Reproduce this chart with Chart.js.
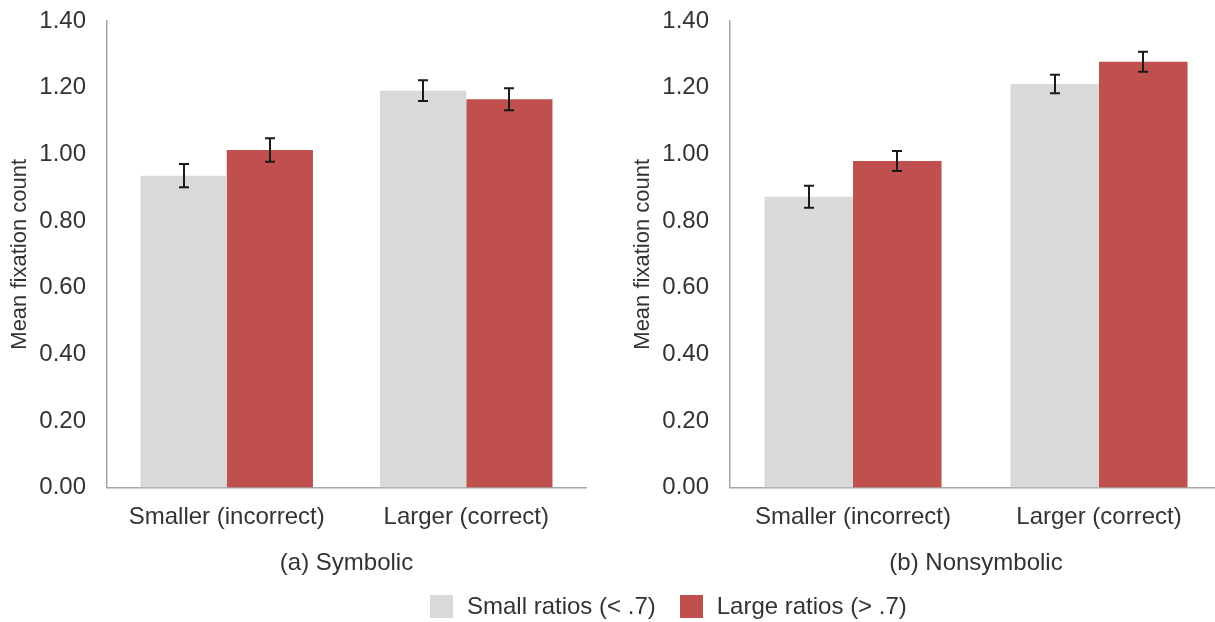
<!DOCTYPE html>
<html>
<head>
<meta charset="utf-8">
<script src="https://cdn.jsdelivr.net/npm/chart.js@4.4.1/dist/chart.umd.min.js"></script>
<style>
  html,body{margin:0;padding:0;background:#fff;overflow:hidden;width:1215px;height:622px;}
  .panel{position:absolute;top:0;height:622px;width:600px;}
  #legend{position:absolute;left:430px;top:592px;display:flex;align-items:center;
    font:24px 'Liberation Sans',Arial,sans-serif;color:#333;}
  #legend span.box{display:inline-block;width:23px;height:23px;margin-right:14px;}
  #legend span.item{display:inline-flex;align-items:center;margin-right:24px;}
</style>
</head>
<body>
<div class="panel" style="left:0"><canvas id="chartSymbolic"></canvas></div>
<div class="panel" style="left:623px"><canvas id="chartNonsymbolic"></canvas></div>
<div id="legend"></div>
<script>
// categorie e serie
const categories = ['Smaller (incorrect)', 'Larger (correct)'];
const seriesNames = ['Small ratios (< .7)', 'Large ratios (> .7)'];
const seriesColors = ['#d9d9d9', '#c0504d'];

// (a) Symbolic: un valore per categoria
const symSmallRatios = [0.936, 1.191];
const symLargeRatios = [1.013, 1.165];
const symSmallErr = [0.035, 0.031];
const symLargeErr = [0.035, 0.033];

// (b) Nonsymbolic
const nonSmallRatios = [0.873, 1.211];
const nonLargeRatios = [0.980, 1.278];
const nonSmallErr = [0.033, 0.028];
const nonLargeErr = [0.030, 0.030];

const yTicks = [0, 0.2, 0.4, 0.6, 0.8, 1.0, 1.2, 1.4];

const FONT = "'Liberation Sans', Arial, sans-serif";
const TEXT = '#333';

const errorBars = {
  id:'errorBars',
  afterDatasetsDraw(chart){
    const {ctx, scales:{y}} = chart;
    ctx.save();
    ctx.strokeStyle = '#1a1a1a';
    ctx.lineWidth = 2;
    chart.data.datasets.forEach((ds, di)=>{
      const meta = chart.getDatasetMeta(di);
      meta.data.forEach((bar, i)=>{
        const v = ds.data[i], e = ds.errors[i];
        const yTop = y.getPixelForValue(v + e);
        const yBot = y.getPixelForValue(v - e);
        const x = Math.round(bar.x);
        ctx.beginPath();
        ctx.moveTo(x, yTop); ctx.lineTo(x, yBot);
        ctx.moveTo(x-5, yTop); ctx.lineTo(x+5, yTop);
        ctx.moveTo(x-5, yBot); ctx.lineTo(x+5, yBot);
        ctx.stroke();
      });
    });
    ctx.restore();
  }
};

function makeChart(id, title, small, large, smallErr, largeErr, padRight){
  return new Chart(document.getElementById(id), {
    type:'bar',
    data:{
      labels:categories,
      datasets:[
        {label:seriesNames[0], data:small, errors:smallErr, backgroundColor:seriesColors[0]},
        {label:seriesNames[1], data:large, errors:largeErr, backgroundColor:seriesColors[1]}
      ]
    },
    options:{
      responsive:true,
      maintainAspectRatio:false,
      animation:false,
      layout:{padding:{left:3, right:padRight, top:21, bottom:40}},
      datasets:{bar:{categoryPercentage:0.72, barPercentage:1.0}},
      plugins:{legend:{display:false}, tooltip:{enabled:false}},
      scales:{
        x:{
          afterFit:(s)=>{ s.height = 94.4; },
          grid:{display:false, drawTicks:false},
          border:{display:true, color:'#a6a6a6', width:1.5},
          ticks:{color:TEXT, font:{family:FONT, size:24}, padding:15, maxRotation:0},
          title:{display:true, text:title, color:TEXT, font:{family:FONT, size:24}, padding:{top:18, bottom:4}}
        },
        y:{
          min:0, max:1.4,
          afterBuildTicks:(s)=>{ s.ticks = yTicks.map(v=>({value:v})); },
          afterFit:(s)=>{ s.width = 104; s.paddingTop = 0; s.paddingBottom = 0; },
          grid:{display:false, drawTicks:false},
          border:{display:true, color:'#a6a6a6', width:1.5},
          ticks:{color:TEXT, font:{family:FONT, size:24}, padding:21, callback:(v)=>Number(v).toFixed(2)},
          title:{display:true, text:'Mean fixation count', color:TEXT, font:{family:FONT, size:22}, padding:{top:4, bottom:6}}
        }
      }
    },
    plugins:[errorBars]
  });
}

makeChart('chartSymbolic', '(a) Symbolic', symSmallRatios, symLargeRatios, symSmallErr, symLargeErr, 14);
makeChart('chartNonsymbolic', '(b) Nonsymbolic', nonSmallRatios, nonLargeRatios, nonSmallErr, nonLargeErr, 1);

// legenda comune
const legend = document.getElementById('legend');
seriesNames.forEach((name, i)=>{
  const item = document.createElement('span');
  item.className = 'item';
  const box = document.createElement('span');
  box.className = 'box';
  box.style.background = seriesColors[i];
  item.appendChild(box);
  item.appendChild(document.createTextNode(name));
  legend.appendChild(item);
});
</script>
</body>
</html>
